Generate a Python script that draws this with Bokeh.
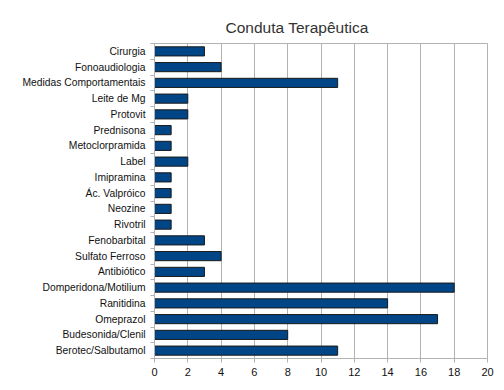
from bokeh.plotting import figure
from bokeh.models import FixedTicker, Range1d, Title
from bokeh.embed import file_html
from bokeh.resources import INLINE

categories = ["Cirurgia", "Fonoaudiologia", "Medidas Comportamentais", "Leite de Mg",
              "Protovit", "Prednisona", "Metoclorpramida", "Label", "Imipramina",
              "Ác. Valpróico", "Neozine", "Rivotril", "Fenobarbital", "Sulfato Ferroso",
              "Antibiótico", "Domperidona/Motilium", "Ranitidina", "Omeprazol",
              "Budesonida/Clenil", "Berotec/Salbutamol"]
values = [3, 4, 11, 2, 2, 1, 1, 2, 1, 1, 1, 1, 3, 4, 3, 18, 14, 17, 8, 11]
x_ticks = [0, 2, 4, 6, 8, 10, 12, 14, 16, 18, 20]

n = len(categories)
ypos = [n - 0.5 - i for i in range(n)]

p = figure(output_backend="svg", toolbar_location=None,
           x_range=Range1d(0, 20), y_range=Range1d(0, n),
           frame_width=333, frame_height=315,
           min_border_left=154, min_border_top=43, min_border_right=9, min_border_bottom=24)
p.title = Title(text="Conduta Terapêutica", align="left", offset=71, standoff=15,
                text_font="Liberation Sans", text_font_size="15.5px",
                text_font_style="normal", text_color="#333333")

p.hbar(y=ypos, right=values, left=0, height=0.58,
       fill_color="#004586", line_color="#1a1a1a", line_width=1)

p.outline_line_color = "#b3b3b3"
p.outline_line_width = 1
p.background_fill_color = "white"
p.border_fill_color = "white"

# x axis
p.xaxis.ticker = FixedTicker(ticks=x_ticks)
p.xaxis.axis_line_color = "#b3b3b3"
p.xaxis.major_tick_line_color = "#b3b3b3"
p.xaxis.major_tick_in = 0
p.xaxis.major_tick_out = 4
p.xaxis.minor_tick_line_color = None
p.xaxis.major_label_text_font = "Liberation Sans"
p.xaxis.major_label_text_font_size = "11px"
p.xaxis.major_label_text_color = "#111111"
p.xaxis.major_label_standoff = 5
p.xgrid.ticker = FixedTicker(ticks=x_ticks)
p.xgrid.grid_line_color = "#b3b3b3"

# y axis
p.yaxis.ticker = FixedTicker(ticks=ypos, minor_ticks=list(range(0, n + 1)))
p.yaxis.major_label_overrides = {y: c for y, c in zip(ypos, categories)}
p.yaxis.axis_line_color = "#b3b3b3"
p.yaxis.major_tick_line_color = None
p.yaxis.minor_tick_line_color = "#b3b3b3"
p.yaxis.minor_tick_in = 0
p.yaxis.minor_tick_out = 4
p.yaxis.major_label_text_font = "Liberation Sans"
p.yaxis.major_label_text_font_size = "10.3px"
p.yaxis.major_label_text_color = "#111111"
p.yaxis.major_label_standoff = 3
p.ygrid.grid_line_color = None

open("out.html", "w").write(file_html(p, INLINE))
